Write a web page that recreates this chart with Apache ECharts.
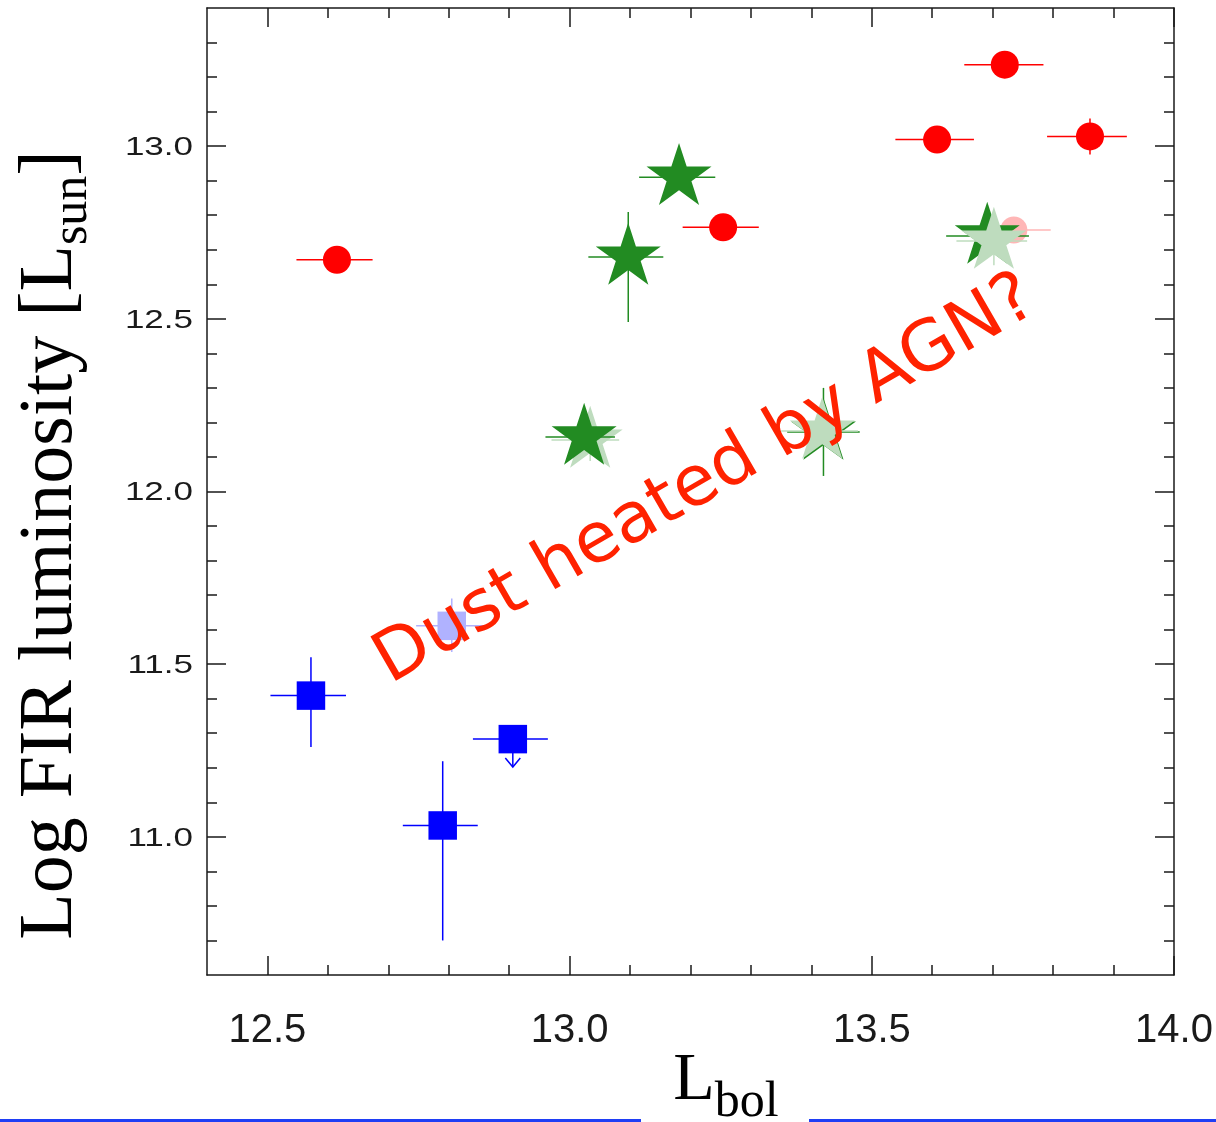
<!DOCTYPE html>
<html>
<head>
<meta charset="utf-8">
<script src="https://cdn.jsdelivr.net/npm/echarts@6/dist/echarts.min.js"></script>
<style>
  html, body { margin: 0; padding: 0; background: #ffffff; }
  #chart { width: 1216px; height: 1122px; }
</style>
</head>
<body>
<div id="chart"></div>
<script>
// ---- Red circles (L_bol, log L_FIR) with error ranges ----
const redX   = [12.615, 13.254, 13.608, 13.720, 13.861];
const redY   = [12.671, 12.765, 13.019, 13.236, 13.028];
const redXLo = [12.548, 13.187, 13.539, 13.653, 13.790];
const redXHi = [12.674, 13.313, 13.669, 13.784, 13.922];
const redYLo = [12.671, 12.765, 13.019, 13.236, 12.976];
const redYHi = [12.671, 12.765, 13.019, 13.236, 13.080];

// Faded red circle
const paleRedX   = [13.735];
const paleRedY   = [12.757];
const paleRedXLo = [13.674];
const paleRedXHi = [13.796];
const paleRedYLo = [12.757];
const paleRedYHi = [12.757];

// ---- Green stars ----
const starX   = [13.024, 13.097, 13.181, 13.420, 13.691];
const starY   = [12.158, 12.679, 12.910, 12.172, 12.740];
const starXLo = [12.960, 13.031, 13.115, 13.360, 13.623];
const starXHi = [13.075, 13.155, 13.241, 13.480, 13.760];
const starYLo = [12.158, 12.491, 12.910, 12.045, 12.680];
const starYHi = [12.158, 12.809, 12.910, 12.300, 12.800];

// Faded star lying beneath a solid one
const paleStarUnderX   = [13.034];
const paleStarUnderY   = [12.149];
const paleStarUnderXLo = [12.970];
const paleStarUnderXHi = [13.082];
const paleStarUnderYLo = [12.088];
const paleStarUnderYHi = [12.210];

// Faded stars lying above the solid ones
const paleStarX   = [13.418, 13.702];
const paleStarY   = [12.175, 12.725];
const paleStarXLo = [13.350, 13.640];
const paleStarXHi = [13.477, 13.757];
const paleStarYLo = [12.175, 12.655];
const paleStarYHi = [12.175, 12.790];

// ---- Blue squares ----
const sqX   = [12.572, 12.790, 12.906];
const sqY   = [11.409, 11.033, 11.283];
const sqXLo = [12.505, 12.724, 12.840];
const sqXHi = [12.630, 12.848, 12.964];
const sqYLo = [11.260, 10.700, 11.283];
const sqYHi = [11.520, 11.219, 11.283];

// Upper limit on the third square
const limX  = [12.906];
const limY  = [11.283];
const limTo = [11.202];

// Faded square
const paleSqX   = [12.805];
const paleSqY   = [11.611];
const paleSqXLo = [12.746];
const paleSqXHi = [12.863];
const paleSqYLo = [11.535];
const paleSqYHi = [11.690];

// ---- Axes ----
const xMin = 12.4, xMax = 14.0;
const yMin = 10.6, yMax = 13.4;
const xMajorTicks = [12.5, 13.0, 13.5, 14.0];
const xMinorTicks = [12.6, 12.7, 12.8, 12.9, 13.1, 13.2, 13.3, 13.4, 13.6, 13.7, 13.8, 13.9];
const yMajorTicks = [11.0, 11.5, 12.0, 12.5, 13.0];
const yMinorTicks = [10.7, 10.8, 10.9, 11.1, 11.2, 11.3, 11.4, 11.6, 11.7, 11.8, 11.9,
                     12.1, 12.2, 12.3, 12.4, 12.6, 12.7, 12.8, 12.9, 13.1, 13.2, 13.3];

const xTitle = { main: 'L', sub: 'bol' };
const yTitle = { main: 'Log FIR luminosity [L', sub: 'sun', tail: ']' };
const note = 'Dust heated by AGN?';

// ---- Colours ----
const RED = '#ff0000', PALE_RED = '#ffb6b6';
const GREEN = '#228b22', PALE_GREEN = '#bedcbe';
const BLUE = '#0000ff', PALE_BLUE = '#b0b2ff';
const INK = '#1a1a1a';

const STAR = 'path://M50,0 L61.23,34.55 L97.55,34.55 L68.16,55.9 L79.39,90.45 L50,69.1 L20.61,90.45 L31.84,55.9 L2.45,34.55 L38.77,34.55 Z';
const STAR_SIZE = [65, 62];
const STAR_OFFSET = [0, -3.3];

const chart = echarts.init(document.getElementById('chart'), null, { renderer: 'canvas' });

function pairs(xs, ys) { return xs.map((x, i) => [x, ys[i]]); }

function errorBars(color, xs, ys, xLo, xHi, yLo, yHi, z) {
  return {
    type: 'custom', z: z, silent: true, clip: true,
    xAxisIndex: 0, yAxisIndex: 0,
    data: xs.map((x, i) => [x, ys[i], xLo[i], xHi[i], yLo[i], yHi[i]]),
    encode: { x: 0, y: 1 },
    renderItem: function (params, api) {
      const x = api.value(0), y = api.value(1);
      const l = api.coord([api.value(2), y]);
      const r = api.coord([api.value(3), y]);
      const b = api.coord([x, api.value(4)]);
      const t = api.coord([x, api.value(5)]);
      const style = { stroke: color, lineWidth: 1.5, fill: null };
      const children = [];
      if (Math.abs(r[0] - l[0]) > 0.5) {
        children.push({ type: 'line', shape: { x1: l[0], y1: l[1], x2: r[0], y2: r[1] }, style: style });
      }
      if (Math.abs(b[1] - t[1]) > 0.5) {
        children.push({ type: 'line', shape: { x1: b[0], y1: b[1], x2: t[0], y2: t[1] }, style: style });
      }
      return { type: 'group', children: children };
    }
  };
}

function upperLimits(color, xs, ys, to, z) {
  return {
    type: 'custom', z: z, silent: true,
    xAxisIndex: 0, yAxisIndex: 0,
    data: xs.map((x, i) => [x, ys[i], to[i]]),
    encode: { x: 0, y: 1 },
    renderItem: function (params, api) {
      const p = api.coord([api.value(0), api.value(1)]);
      const tip = api.coord([api.value(0), api.value(2)]);
      const style = { stroke: color, lineWidth: 1.5, fill: null };
      return {
        type: 'group',
        children: [
          { type: 'line', shape: { x1: p[0], y1: p[1], x2: tip[0], y2: tip[1] }, style: style },
          { type: 'polyline', shape: { points: [[tip[0] - 7.5, tip[1] - 9], [tip[0], tip[1]], [tip[0] + 7.5, tip[1] - 9]] }, style: style }
        ]
      };
    }
  };
}

function markers(symbol, size, color, xs, ys, z, offset) {
  return {
    type: 'scatter', z: z, silent: true,
    xAxisIndex: 0, yAxisIndex: 0,
    symbol: symbol, symbolSize: size, symbolOffset: offset || [0, 0],
    itemStyle: { color: color, opacity: 1 },
    emphasis: { disabled: true },
    data: pairs(xs, ys)
  };
}

const tickLine = { color: INK, width: 1.5 };
function xAxisDef(position, ticks, len, withLine, withLabels) {
  return {
    type: 'value', position: position, min: xMin, max: xMax, gridIndex: 0,
    axisLine: { show: withLine, onZero: false, lineStyle: { color: INK, width: 1.5 } },
    axisTick: { show: true, inside: true, length: len, customValues: ticks, lineStyle: tickLine },
    axisLabel: withLabels ? {
      show: true, customValues: xMajorTicks, margin: 36,
      formatter: function (v) { return v.toFixed(1); },
      fontFamily: '"Liberation Sans Narrow", "Liberation Sans", sans-serif',
      fontSize: 40, color: INK
    } : { show: false },
    splitLine: { show: false }, minorTick: { show: false }
  };
}
function yAxisDef(position, ticks, len, withLine) {
  return {
    type: 'value', position: position, min: yMin, max: yMax, gridIndex: 0,
    axisLine: { show: withLine, onZero: false, lineStyle: { color: INK, width: 1.5 } },
    axisTick: { show: true, inside: true, length: len, customValues: ticks, lineStyle: tickLine },
    axisLabel: { show: false },
    splitLine: { show: false }, minorTick: { show: false }
  };
}

const option = {
  backgroundColor: '#ffffff',
  animation: false,
  grid: { left: 207, top: 8, width: 967, height: 967, containLabel: false, outerBoundsMode: 'none' },
  xAxis: [
    xAxisDef('bottom', xMajorTicks, 19, true, true),
    xAxisDef('top', xMajorTicks, 19, true, false),
    xAxisDef('bottom', xMinorTicks, 10, false, false),
    xAxisDef('top', xMinorTicks, 10, false, false)
  ],
  yAxis: [
    yAxisDef('left', yMajorTicks, 19, true),
    yAxisDef('right', yMajorTicks, 19, true),
    yAxisDef('left', yMinorTicks, 10, false),
    yAxisDef('right', yMinorTicks, 10, false)
  ],
  series: [
    errorBars(RED, redX, redY, redXLo, redXHi, redYLo, redYHi, 2),
    markers('circle', 28, RED, redX, redY, 3),
    errorBars(PALE_RED, paleRedX, paleRedY, paleRedXLo, paleRedXHi, paleRedYLo, paleRedYHi, 4),
    markers('circle', 27, PALE_RED, paleRedX, paleRedY, 5),
    errorBars(PALE_GREEN, paleStarUnderX, paleStarUnderY, paleStarUnderXLo, paleStarUnderXHi, paleStarUnderYLo, paleStarUnderYHi, 6),
    markers(STAR, STAR_SIZE, PALE_GREEN, paleStarUnderX, paleStarUnderY, 7, STAR_OFFSET),
    errorBars(GREEN, starX, starY, starXLo, starXHi, starYLo, starYHi, 8),
    markers(STAR, STAR_SIZE, GREEN, starX, starY, 9, STAR_OFFSET),
    errorBars(PALE_GREEN, paleStarX, paleStarY, paleStarXLo, paleStarXHi, paleStarYLo, paleStarYHi, 10),
    markers(STAR, STAR_SIZE, PALE_GREEN, paleStarX, paleStarY, 11, STAR_OFFSET),
    errorBars(BLUE, sqX, sqY, sqXLo, sqXHi, sqYLo, sqYHi, 12),
    upperLimits(BLUE, limX, limY, limTo, 12),
    markers('rect', 28.5, BLUE, sqX, sqY, 13),
    errorBars(PALE_BLUE, paleSqX, paleSqY, paleSqXLo, paleSqXHi, paleSqYLo, paleSqYHi, 14),
    markers('rect', 28.5, PALE_BLUE, paleSqX, paleSqY, 15)
  ]
};

chart.setOption(option);

// Y tick labels: widened sans text set at each major tick
const yLabelEls = yMajorTicks.map(function (v) {
  const py = chart.convertToPixel({ yAxisIndex: 0 }, v);
  return {
    type: 'text', x: 193, y: py + 2, scaleX: 1.4, z: 50, silent: true,
    style: { text: v.toFixed(1), font: '25px "Liberation Sans", sans-serif', fill: INK, align: 'right', verticalAlign: 'middle' }
  };
});

const serif = '"Liberation Serif", serif';
const graphics = yLabelEls.concat([
  {
    // x-axis title with lowered subscript
    type: 'text', x: 726, y: 1047, z: 50, silent: true,
    style: {
      text: '{m|' + xTitle.main + '}{s|' + xTitle.sub + '}',
      align: 'center', verticalAlign: 'top', fill: '#000',
      rich: {
        m: { fontFamily: serif, fontSize: 68, lineHeight: 68, verticalAlign: 'top', color: '#000' },
        s: { fontFamily: serif, fontSize: 50, lineHeight: 50, verticalAlign: 'top', padding: [31, 0, 0, 0], color: '#000' }
      }
    }
  },
  {
    // y-axis title, rotated to read upward
    type: 'text', x: 13, y: 545, rotation: Math.PI / 2, z: 50, silent: true,
    style: {
      text: '{m|' + yTitle.main + '}{s|' + yTitle.sub + '}{m|' + yTitle.tail + '}',
      align: 'center', verticalAlign: 'top', fill: '#000',
      rich: {
        m: { fontFamily: serif, fontSize: 76, lineHeight: 76, verticalAlign: 'top', color: '#000' },
        s: { fontFamily: serif, fontSize: 50, lineHeight: 50, verticalAlign: 'top', padding: [35, 0, 0, 0], color: '#000' }
      }
    }
  },
  {
    type: 'text', x: 706, y: 481, rotation: Math.PI / 6, z: 100, silent: true,
    style: { text: note, font: '70px "DejaVu Sans", sans-serif', fill: '#ff2200', align: 'center', verticalAlign: 'middle' }
  },
  { type: 'line', z: 50, silent: true, shape: { x1: 0, y1: 1120.5, x2: 641, y2: 1120.5 }, style: { stroke: '#1f3ef5', lineWidth: 3 } },
  { type: 'line', z: 50, silent: true, shape: { x1: 809, y1: 1120.5, x2: 1216, y2: 1120.5 }, style: { stroke: '#1f3ef5', lineWidth: 3 } }
]);

chart.setOption({ graphic: graphics });
</script>
</body>
</html>
